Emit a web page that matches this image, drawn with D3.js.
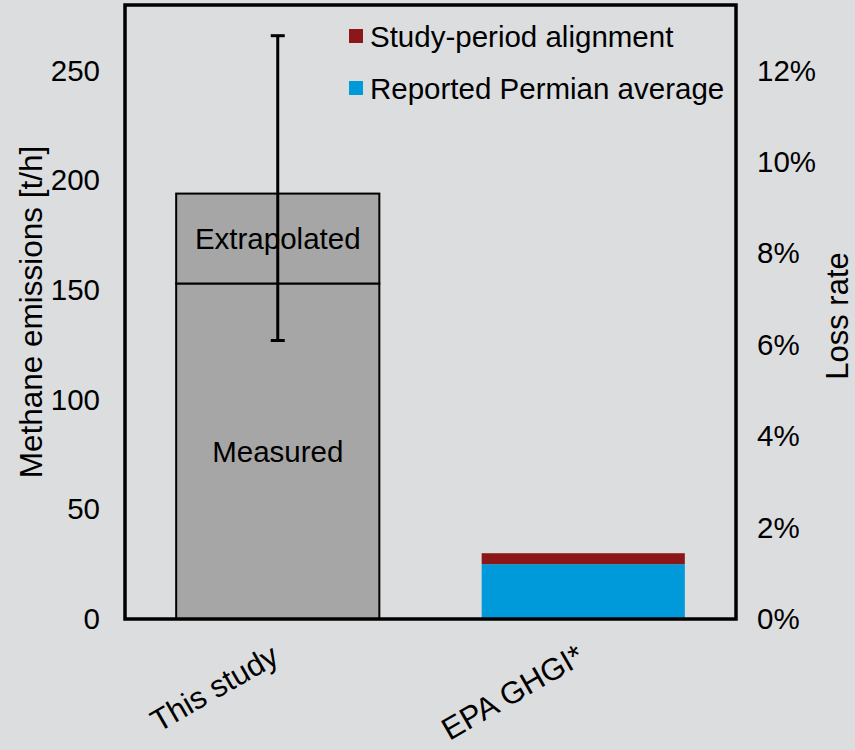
<!DOCTYPE html>
<html>
<head>
<meta charset="utf-8">
<script src="https://cdn.jsdelivr.net/npm/d3@7/dist/d3.min.js"></script>
<style>
  html, body { margin: 0; padding: 0; background: #dcdddf; }
  svg { display: block; font-family: "Liberation Sans", Arial, sans-serif; }
</style>
</head>
<body>
<svg id="chart" width="855" height="750"></svg>
<script>
// Categories and stacked segments (methane emissions, t/h)
const categories = ["This study", "EPA GHGI*"];
const studyMeasured = 153;
const studyExtrapolated = 41;        // on top of measured → total 194
const studyErrorLow = 127;
const studyErrorHigh = 266;
const epaReported = 25;              // Reported Permian average
const epaAlignment = 5;              // Study-period alignment
const leftTicks = [0, 50, 100, 150, 200, 250];
const rightTicks = [0, 0.02, 0.04, 0.06, 0.08, 0.10, 0.12];
const legendItems = [
  { label: "Study-period alignment", color: "#8c1719" },
  { label: "Reported Permian average", color: "#0099da" }
];

const FONT = 29.5;
const svg = d3.select("#chart");
const plot = { left: 125, right: 736, top: 5, bottom: 619 };

const x = d3.scaleBand()
  .domain(categories)
  .range([plot.left, plot.right])
  .paddingInner(0.335)
  .paddingOuter(0.1675);

const y = d3.scaleLinear().domain([0, 280]).range([plot.bottom, plot.top]);
// Loss rate axis shares the same extent: 250 t/h corresponds to 12 %
const yRight = d3.scaleLinear().domain([0, 280 * 0.12 / 250]).range([plot.bottom, plot.top]);

// Stacked segments for the study bar
const studySegments = [
  { name: "Measured", y0: 0, y1: studyMeasured },
  { name: "Extrapolated", y0: studyMeasured, y1: studyMeasured + studyExtrapolated }
];
svg.append("g").selectAll("rect")
  .data(studySegments)
  .join("rect")
  .attr("x", x(categories[0]))
  .attr("width", x.bandwidth())
  .attr("y", d => y(d.y1))
  .attr("height", d => y(d.y0) - y(d.y1))
  .attr("fill", "#a6a6a6")
  .attr("stroke", "#000")
  .attr("stroke-width", 2);

svg.append("g").selectAll("text")
  .data(studySegments)
  .join("text")
  .attr("x", x(categories[0]) + x.bandwidth() / 2)
  .attr("y", d => (y(d.y0) + y(d.y1)) / 2)
  .attr("text-anchor", "middle")
  .attr("dominant-baseline", "central")
  .attr("font-size", FONT)
  .attr("fill", "#000")
  .text(d => d.name);

// EPA stacked bar
const epaSegments = [
  { y0: 0, y1: epaReported, color: legendItems[1].color },
  { y0: epaReported, y1: epaReported + epaAlignment, color: legendItems[0].color }
];
svg.append("g").selectAll("rect")
  .data(epaSegments)
  .join("rect")
  .attr("x", x(categories[1]))
  .attr("width", x.bandwidth())
  .attr("y", d => y(d.y1))
  .attr("height", d => y(d.y0) - y(d.y1))
  .attr("fill", d => d.color);

// Error bar on the study bar
const ex = x(categories[0]) + x.bandwidth() / 2;
const err = svg.append("g").attr("stroke", "#000").attr("stroke-width", 3);
err.append("line").attr("x1", ex).attr("x2", ex).attr("y1", y(studyErrorHigh)).attr("y2", y(studyErrorLow));
err.append("line").attr("x1", ex - 7).attr("x2", ex + 7).attr("y1", y(studyErrorHigh)).attr("y2", y(studyErrorHigh));
err.append("line").attr("x1", ex - 7).attr("x2", ex + 7).attr("y1", y(studyErrorLow)).attr("y2", y(studyErrorLow));

// Frame
svg.append("rect")
  .attr("x", plot.left).attr("y", plot.top)
  .attr("width", plot.right - plot.left).attr("height", plot.bottom - plot.top)
  .attr("fill", "none").attr("stroke", "#000").attr("stroke-width", 3.5);

// Left axis
const leftAxis = svg.append("g")
  .attr("transform", `translate(${plot.left},0)`)
  .call(d3.axisLeft(y).tickValues(leftTicks).tickSize(0).tickPadding(25));
leftAxis.select(".domain").remove();
leftAxis.selectAll("text").attr("font-size", FONT).attr("font-family", "Liberation Sans, Arial, sans-serif").attr("fill", "#000");

// Right axis
const rightAxis = svg.append("g")
  .attr("transform", `translate(${plot.right},0)`)
  .call(d3.axisRight(yRight).tickValues(rightTicks).tickSize(0).tickPadding(21).tickFormat(d3.format(".0%")));
rightAxis.select(".domain").remove();
rightAxis.selectAll("text").attr("font-size", FONT).attr("font-family", "Liberation Sans, Arial, sans-serif").attr("fill", "#000");

// Category labels, rotated
svg.append("g").selectAll("text")
  .data(categories)
  .join("text")
  .attr("transform", d => `translate(${x(d) + x.bandwidth() / 2 + 3},${plot.bottom + 43}) rotate(-30)`)
  .attr("text-anchor", "end")
  .attr("font-size", 31)
  .attr("fill", "#000")
  .text(d => d);

// Axis titles
svg.append("text")
  .attr("transform", `translate(42,${(plot.top + plot.bottom) / 2}) rotate(-90)`)
  .attr("text-anchor", "middle")
  .attr("font-size", 31.5)
  .attr("fill", "#000")
  .text("Methane emissions [t/h]");

svg.append("text")
  .attr("transform", `translate(848,${(plot.top + plot.bottom) / 2 + 4}) rotate(-90)`)
  .attr("text-anchor", "middle")
  .attr("font-size", 31)
  .attr("fill", "#000")
  .text("Loss rate");

// Legend
const legend = svg.append("g").attr("transform", "translate(349,36)");
const li = legend.selectAll("g").data(legendItems).join("g")
  .attr("transform", (d, i) => `translate(0,${i * 52})`);
li.append("rect").attr("x", 0).attr("y", -7).attr("width", 14).attr("height", 14).attr("fill", d => d.color);
li.append("text").attr("x", 21).attr("y", 0)
  .attr("dominant-baseline", "central")
  .attr("font-size", FONT)
  .attr("fill", "#000")
  .text(d => d.label);
</script>
</body>
</html>
